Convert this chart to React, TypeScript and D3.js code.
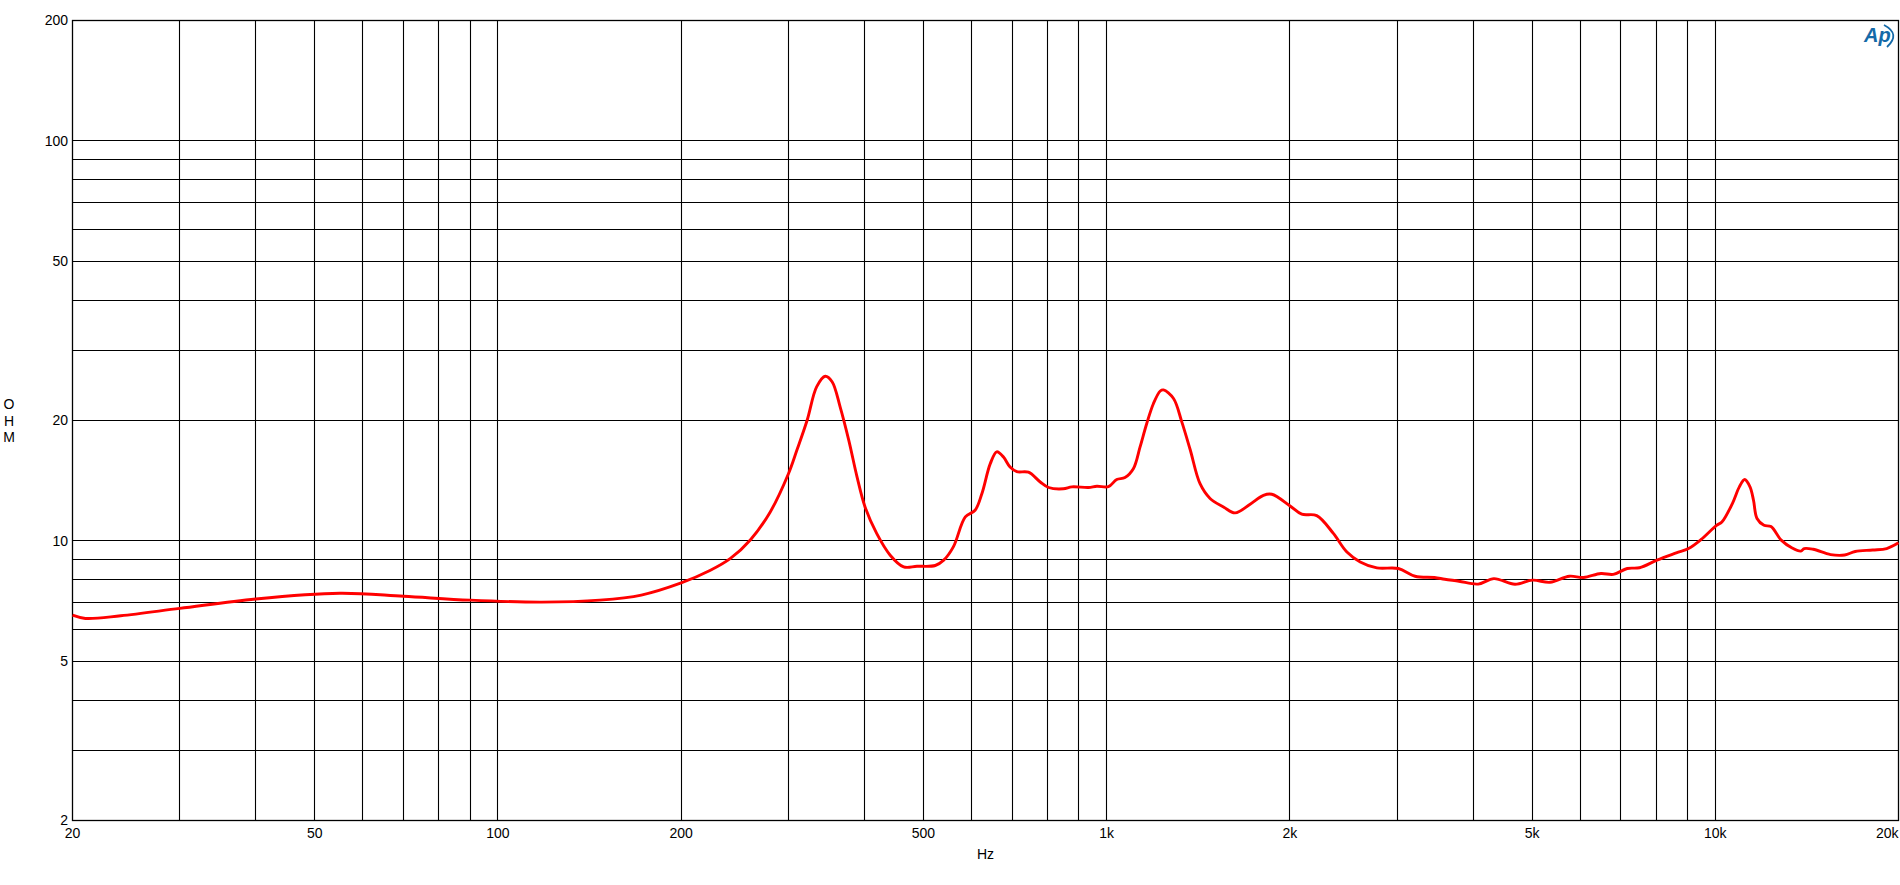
import React from "react";
import * as d3 from "d3";

const freqs = [20, 21, 24, 30, 40, 55, 70, 90, 118, 147, 172, 200, 223, 241, 260, 280, 300, 310, 322, 334, 345, 354, 365, 377, 389, 401, 419, 441, 464, 488, 523, 540, 560, 586, 608, 624, 644, 660, 677, 694, 712, 744, 778, 803, 849, 877, 934, 964, 1007, 1039, 1072, 1107, 1135, 1164, 1194, 1225, 1240, 1288, 1329, 1372, 1424, 1479, 1556, 1626, 1721, 1810, 1868, 2002, 2092, 2214, 2358, 2482, 2610, 2780, 3016, 3212, 3456, 3594, 3792, 4078, 4328, 4688, 5008, 5352, 5758, 6074, 6488, 6798, 7168, 7508, 8022, 8630, 9038, 9470, 10050, 10254, 10668, 10954, 11176, 11404, 11556, 11710, 12024, 12346, 12846, 13374, 13822, 14002, 14480, 15470, 16316, 16978, 18138, 19126, 20000];
const ohms = [6.52, 6.4, 6.5, 6.78, 7.16, 7.4, 7.27, 7.11, 7.03, 7.11, 7.32, 7.85, 8.43, 9.04, 10.07, 11.8, 14.7, 16.9, 20.0, 24.3, 25.8, 25.0, 21.6, 17.86, 14.46, 12.16, 10.44, 9.21, 8.61, 8.64, 8.68, 8.95, 9.66, 11.48, 11.93, 13.14, 15.6, 16.7, 16.2, 15.3, 14.9, 14.85, 14.04, 13.6, 13.5, 13.65, 13.6, 13.7, 13.66, 14.24, 14.4, 15.17, 17.18, 19.66, 22.06, 23.7, 23.85, 22.7, 19.84, 16.9, 13.9, 12.77, 12.16, 11.75, 12.35, 13.0, 13.08, 12.23, 11.66, 11.57, 10.44, 9.38, 8.86, 8.56, 8.53, 8.16, 8.1, 8.02, 7.93, 7.8, 8.05, 7.79, 7.98, 7.88, 8.16, 8.1, 8.29, 8.25, 8.53, 8.57, 8.95, 9.33, 9.57, 10.07, 10.94, 11.15, 12.4, 13.65, 14.24, 13.65, 12.64, 11.38, 10.94, 10.86, 10.03, 9.6, 9.43, 9.57, 9.53, 9.24, 9.22, 9.41, 9.49, 9.57, 9.89];

const xGrid = [30, 40, 50, 60, 70, 80, 90, 100, 200, 300, 400, 500, 600, 700, 800, 900, 1000, 2000, 3000, 4000, 5000, 6000, 7000, 8000, 9000, 10000];
const yGrid = [3, 4, 5, 6, 7, 8, 9, 10, 20, 30, 40, 50, 60, 70, 80, 90, 100];
const xTickValues = [20, 50, 100, 200, 500, 1000, 2000, 5000, 10000, 20000];
const xTickLabels = ["20", "50", "100", "200", "500", "1k", "2k", "5k", "10k", "20k"];
const yTickValues = [200, 100, 50, 20, 10, 5, 2];
const yTickLabels = ["200", "100", "50", "20", "10", "5", "2"];

const W = 1900;
const H = 885;
const L = 72.5, R = 1898.5, T = 20.5, B = 820.5;
const FONT = "'Liberation Sans', Arial, sans-serif";

export default function App() {
  const x = d3.scaleLog().domain([20, 20000]).range([L, R]);
  const y = d3.scaleLog().domain([2, 200]).range([B, T]);
  const px = (v: number) => Math.round(x(v) - 0.5) + 0.5;
  const py = (v: number) => Math.round(y(v) - 0.5) + 0.5;
  const data = freqs.map((f, i) => [f, ohms[i]] as [number, number]);
  const line = d3
    .line<[number, number]>()
    .x((d) => x(d[0]))
    .y((d) => y(d[1]))
    .curve(d3.curveCatmullRom.alpha(0.5));

  return (
    <svg width={W} height={H} style={{ position: "absolute", left: 0, top: 0, background: "#fff" }}>
      <rect x={0} y={0} width={W} height={H} fill="#fff" />
      {xGrid.map((v) => (
        <line key={"xg" + v} x1={px(v)} x2={px(v)} y1={T} y2={B} stroke="#000" strokeWidth={1.1} />
      ))}
      {yGrid.map((v) => (
        <line key={"yg" + v} x1={L} x2={R} y1={py(v)} y2={py(v)} stroke="#000" strokeWidth={1.1} />
      ))}
      <rect x={L} y={T} width={R - L} height={B - T} fill="none" stroke="#000" strokeWidth={1.3} />
      <path d={line(data) || ""} fill="none" stroke="#ff0000" strokeWidth={2.9} strokeLinejoin="round" />
      {yTickValues.map((v, i) => (
        <text key={"yt" + v} x={68} y={y(v)} dy="0.35em" textAnchor="end" fontFamily={FONT} fontSize={14} fill="#000">
          {yTickLabels[i]}
        </text>
      ))}
      {xTickValues.map((v, i) => (
        <text
          key={"xt" + v}
          x={i === xTickValues.length - 1 ? R : x(v)}
          y={838}
          textAnchor={i === xTickValues.length - 1 ? "end" : "middle"}
          fontFamily={FONT}
          fontSize={14}
          fill="#000"
        >
          {xTickLabels[i]}
        </text>
      ))}
      <text x={(L + R) / 2} y={859} textAnchor="middle" fontFamily={FONT} fontSize={14} fill="#000">
        Hz
      </text>
      {["O", "H", "M"].map((c, i) => (
        <text key={c} x={9} y={409 + i * 16.5} textAnchor="middle" fontFamily={FONT} fontSize={14} fill="#000">
          {c}
        </text>
      ))}
      <g>
        <text x={1864} y={42} fontFamily={FONT} fontSize={20} fontStyle="italic" fontWeight="bold" fill="#156aa8">
          Ap
        </text>
        <path d="M 1884 25 Q 1901 34 1887 47" fill="none" stroke="#156aa8" strokeWidth={1.8} />
      </g>
    </svg>
  );
}
